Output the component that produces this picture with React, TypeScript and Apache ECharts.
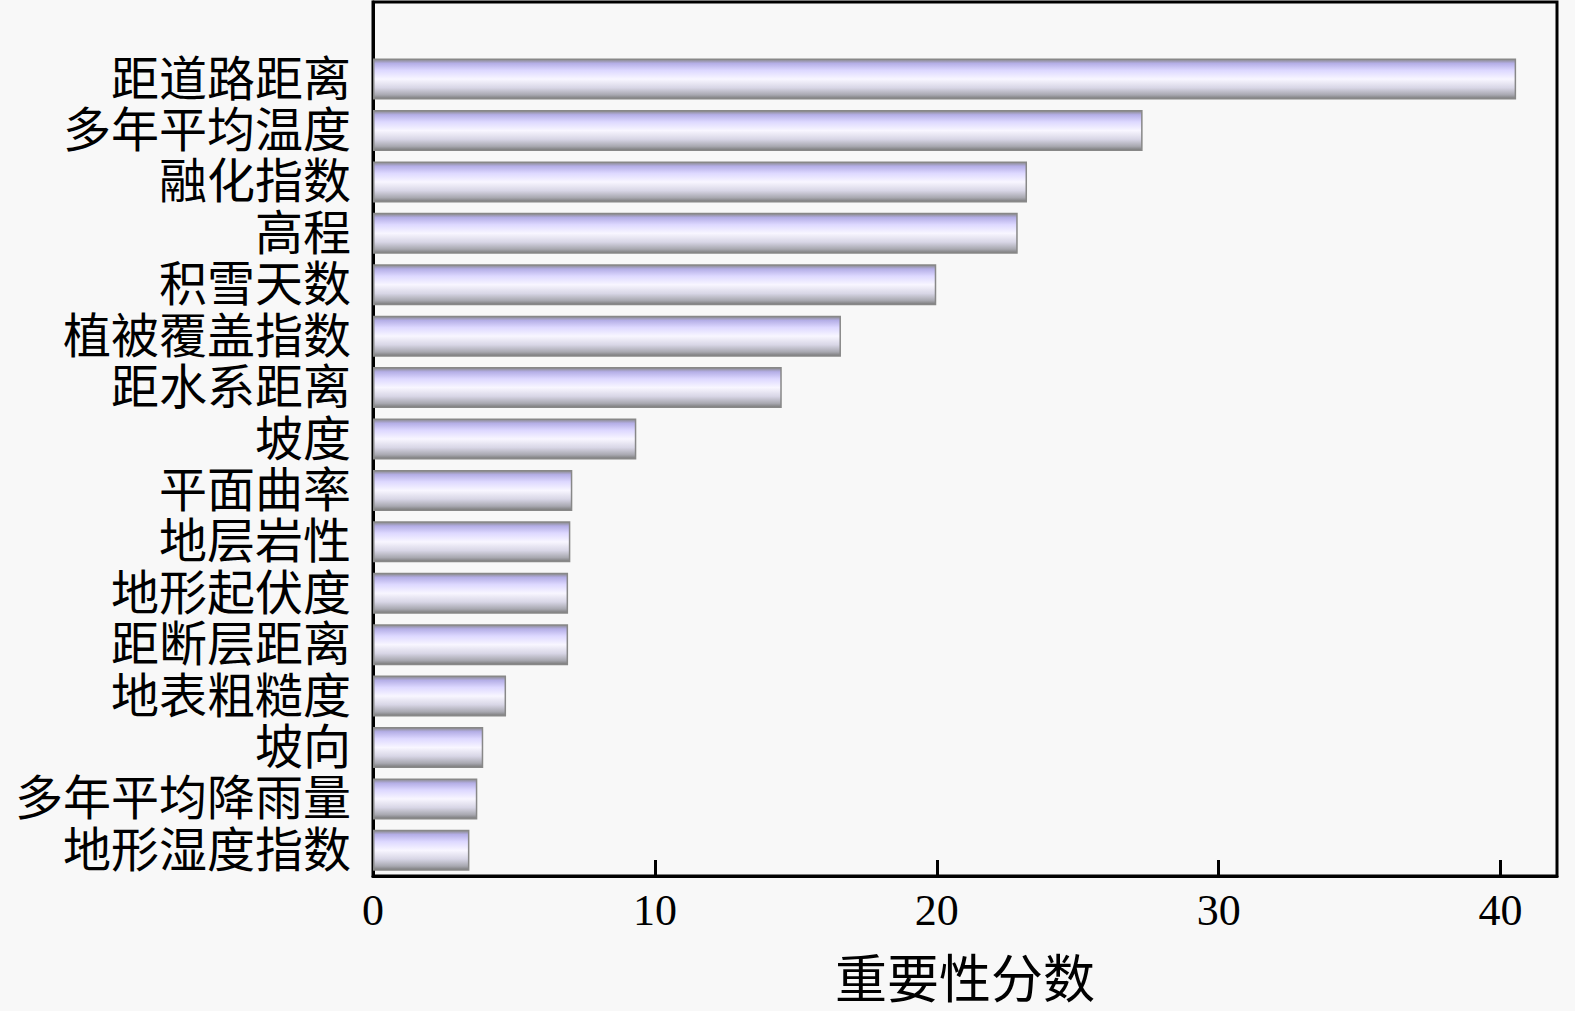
import React, { useEffect, useRef } from "react";
import * as echarts from "echarts";

// bottom-to-top order
const categories = [
  "地形湿度指数",
  "多年平均降雨量",
  "坡向",
  "地表粗糙度",
  "距断层距离",
  "地形起伏度",
  "地层岩性",
  "平面曲率",
  "坡度",
  "距水系距离",
  "植被覆盖指数",
  "积雪天数",
  "高程",
  "融化指数",
  "多年平均温度",
  "距道路距离",
];
const values = [3.42, 3.7, 3.91, 4.72, 6.92, 6.92, 7.0, 7.07, 9.34, 14.5, 16.6, 19.98, 22.87, 23.2, 27.3, 40.55];
const xTicks = [0, 10, 20, 30, 40];
const xAxisName = "重要性分数";

const FONT = "'Liberation Serif', 'Times New Roman', 'Noto Sans CJK SC', serif";

export default function App() {
  const ref = useRef<HTMLDivElement>(null);
  useEffect(() => {
    document.body.style.margin = "0";
    document.body.style.background = "#f8f8f8";
    const chart = echarts.init(ref.current!, null, { renderer: "svg" });
    const grad = new echarts.graphic.LinearGradient(0, 0, 0, 1, [
      { offset: 0, color: "#8a8a8a" },
      { offset: 0.1, color: "#b4aee6" },
      { offset: 0.28, color: "#ddd8ff" },
      { offset: 0.5, color: "#f8f6ff" },
      { offset: 0.72, color: "#d8d6e6" },
      { offset: 0.9, color: "#a8a8b0" },
      { offset: 1, color: "#7a7a7a" },
    ]);
    chart.setOption({
      animation: false,
      backgroundColor: "#f8f8f8",
      grid: {
        left: 373,
        right: 18,
        top: 2,
        bottom: 132,
        show: true,
        borderColor: "#000",
        borderWidth: 3,
        containLabel: false,
      },
      xAxis: {
        type: "value",
        min: xTicks[0],
        max: 42,
        interval: 10,
        name: xAxisName,
        nameLocation: "middle",
        nameGap: 78,
        nameTextStyle: { fontSize: 52, color: "#000", fontFamily: FONT },
        axisLine: { show: true, lineStyle: { color: "#000", width: 3 } },
        axisTick: { show: true, inside: true, length: 16, lineStyle: { color: "#000", width: 3 } },
        axisLabel: {
          fontSize: 44,
          color: "#000",
          fontFamily: FONT,
          margin: 12,
          showMaxLabel: false,
        },
        splitLine: { show: false },
      },
      yAxis: {
        type: "category",
        data: categories,
        max: categories.length,
        axisLine: { show: true, lineStyle: { color: "#000", width: 3 } },
        axisTick: { show: false },
        axisLabel: { fontSize: 48, color: "#000", fontFamily: FONT, margin: 22, interval: 0 },
        splitLine: { show: false },
      },
      series: [
        {
          type: "bar",
          data: values,
          barWidth: 41,
          itemStyle: { color: grad, borderColor: "#888", borderWidth: 1.5 },
        },
      ],
    });
    return () => chart.dispose();
  }, []);
  return <div ref={ref} style={{ width: 1575, height: 1011 }} />;
}
